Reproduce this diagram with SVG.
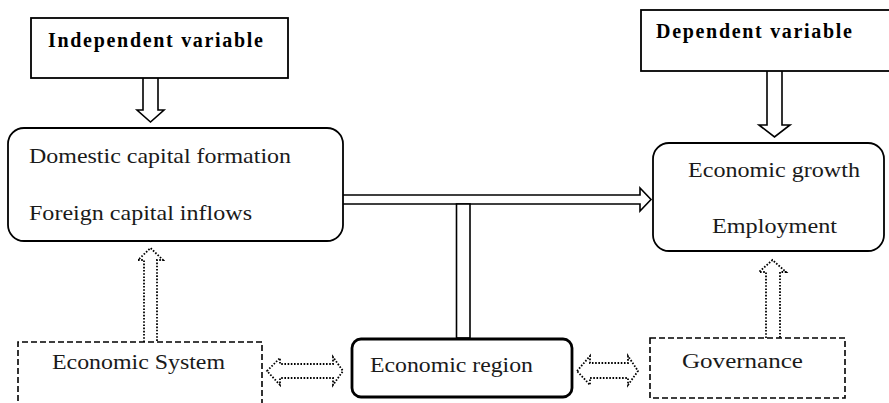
<svg xmlns="http://www.w3.org/2000/svg" width="889" height="403" viewBox="0 0 889 403">
<style>
.box{fill:#fff;stroke:#000;stroke-width:1.8}
.thick{fill:#fff;stroke:#000;stroke-width:2.8}
.dash{fill:#fff;stroke:#000;stroke-width:1.6;stroke-dasharray:6 3}
.arr{fill:#fff;stroke:#000;stroke-width:1.6;stroke-linejoin:miter}
.dot{fill:#fff;stroke:#000;stroke-width:1.8;stroke-dasharray:1.6 1.6}
.t{font-size:22px;fill:#1a1a1a}
.b{font-size:20px;font-weight:bold;fill:#000}
</style>
<rect width="889" height="403" fill="#fff"/>
<g id="connectors">
<path class="arr" d="M143,78 L143,110 L137,110 L150.5,122 L164,110 L158,110 L158,78"/>
<path class="arr" d="M767,71 L767,125 L759,125 L774.5,137 L790,125 L782,125 L782,71"/>
<path class="arr" d="M343,195 L640,195 L640,188 L651,199.5 L640,211 L640,204 L343,204"/>
<rect class="arr" x="456.5" y="204" width="13.5" height="134"/>
<path class="dot" d="M144,342 L144,260 L138,260 L150.5,248 L163,260 L157,260 L157,342"/>
<path class="dot" d="M766,338 L766,272 L759,272 L772.5,260 L786,272 L780,272 L780,338"/>
<path class="dot" d="M267,371 L280,358 L280,364 L333,364 L333,357 L343,371 L333,385 L333,378 L280,378 L280,385 Z"/>
<path class="dot" d="M577,371 L590,356 L590,363 L628,363 L628,356 L638,371 L628,385 L628,378 L590,378 L590,385 Z"/>
</g>
<g font-family="'Liberation Serif', 'Times New Roman', 'DejaVu Serif', serif">
<g id="independent">
<rect class="box" x="31" y="18" width="257" height="60"/>
<text class="b" x="48" y="47" textLength="215" lengthAdjust="spacing">Independent  variable</text>
</g>
<g id="dependent">
<rect class="box" x="641" y="10" width="250" height="61"/>
<text class="b" x="656" y="38" textLength="196" lengthAdjust="spacing">Dependent variable</text>
</g>
<g id="capital">
<rect class="box" x="8" y="128" width="335" height="113" rx="16"/>
<text class="t" x="29" y="163" textLength="262" lengthAdjust="spacingAndGlyphs">Domestic capital formation</text>
<text class="t" x="29" y="220" textLength="223" lengthAdjust="spacingAndGlyphs">Foreign capital inflows</text>
</g>
<g id="growth">
<rect class="box" x="653" y="143" width="231" height="108" rx="16"/>
<text class="t" x="688" y="177" textLength="172" lengthAdjust="spacingAndGlyphs">Economic growth</text>
<text class="t" x="712" y="233" textLength="125" lengthAdjust="spacingAndGlyphs">Employment</text>
</g>
<g id="system">
<path class="dash" d="M18,410 L18,342 L262,342 L262,410"/>
<text class="t" x="52" y="369" textLength="173" lengthAdjust="spacingAndGlyphs">Economic System</text>
</g>
<g id="region">
<rect class="thick" x="352" y="339" width="220" height="58" rx="9"/>
<text class="t" x="370" y="372" textLength="163" lengthAdjust="spacingAndGlyphs">Economic region</text>
</g>
<g id="governance">
<rect class="dash" x="650" y="338" width="195" height="60"/>
<text class="t" x="682" y="368" textLength="121" lengthAdjust="spacingAndGlyphs">Governance</text>
</g>
</g>
</svg>
